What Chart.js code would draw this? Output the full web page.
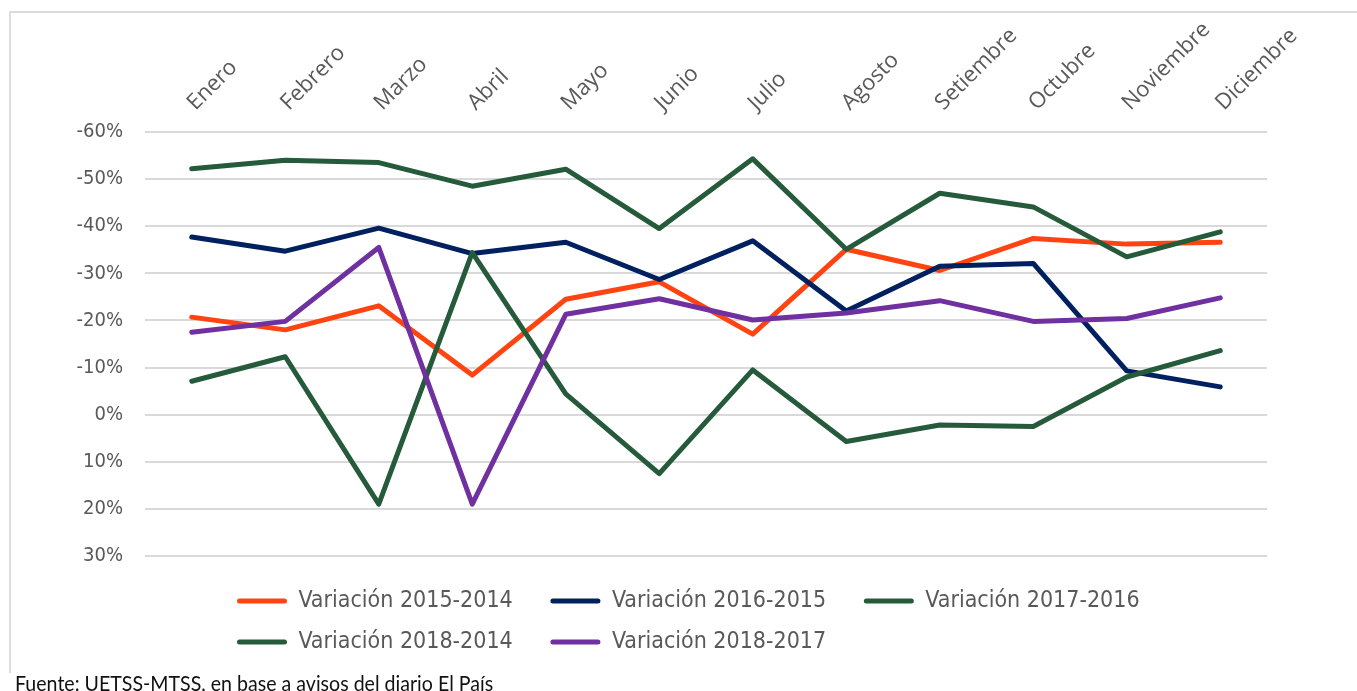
<!DOCTYPE html>
<html lang="es">
<head>
<meta charset="utf-8">
<title>Variación de avisos laborales</title>
<script src="https://cdn.jsdelivr.net/npm/chart.js@4.4.1/dist/chart.umd.min.js"></script>
<style>
  html, body { margin: 0; padding: 0; background: #fff; overflow: hidden; }
  .wrap { position: relative; width: 1357px; height: 691px; }
  .frame {
    position: absolute; left: 9px; top: 11px; width: 1360px; height: 660px;
    border-top: 2px solid #dcdcdc; border-left: 2px solid #dcdcdc;
  }
  .box { position: absolute; left: 0; top: 0; width: 1357px; height: 691px; }
  .fuente {
    position: absolute; left: 15px; top: 669px;
    font-family: Lato, "Open Sans", sans-serif; font-size: 22px; color: #111;
    white-space: nowrap;
    transform: scaleX(0.89); transform-origin: left top;
  }
</style>
</head>
<body>
<div class="wrap">
  <div class="frame"></div>
  <div class="box"><canvas id="grafico"></canvas></div>
  <div class="fuente">Fuente: UETSS-MTSS, en base a avisos del diario El País</div>
</div>

<script>
// Meses (eje superior)
const meses = ['Enero', 'Febrero', 'Marzo', 'Abril', 'Mayo', 'Junio', 'Julio',
  'Agosto', 'Setiembre', 'Octubre', 'Noviembre', 'Diciembre'];

// Variaciones en %
const var2015_2014 = [-20.7, -18.0, -23.1, -8.4, -24.5, -28.2, -17.1, -35.1, -30.6, -37.4, -36.2, -36.6];
const var2016_2015 = [-37.7, -34.7, -39.6, -34.2, -36.6, -28.7, -36.9, -22.0, -31.5, -32.1, -9.3, -5.9];
const var2017_2016 = [-52.2, -54.0, -53.5, -48.5, -52.1, -39.5, -54.3, -35.1, -47.0, -44.1, -33.5, -38.8];
const var2018_2014 = [-7.1, -12.3, 19.0, -34.4, -4.4, 12.5, -9.5, 5.7, 2.2, 2.5, -8.0, -13.6];
const var2018_2017 = [-17.5, -19.8, -35.5, 19.0, -21.3, -24.6, -20.1, -21.6, -24.2, -19.8, -20.4, -24.8];

// Eje Y (invertido)
const yMin = -60;
const yMax = 30;
const yStep = 10;

const gris = '#595959';
const condensada = "'DejaVu Sans Condensed', 'Liberation Sans Narrow', sans-serif";

function serie(label, data, color, orden) {
  return {
    label, data,
    borderColor: color,
    backgroundColor: color,
    borderWidth: 5,
    borderJoinStyle: 'round',
    borderCapStyle: 'round',
    pointRadius: 0,
    pointHoverRadius: 0,
    tension: 0,
    order: orden
  };
}

// Coloca la leyenda como en el original (filas alineadas a la izquierda)
const leyendaFija = {
  id: 'leyendaFija',
  afterLayout(chart) {
    const lg = chart.legend;
    if (!lg) return;
    const h = lg.height;
    lg.left = 219;
    lg.top = 571.5;
    lg.bottom = lg.top + h;
  }
};

new Chart(document.getElementById('grafico'), {
  type: 'line',
  data: {
    labels: meses,
    datasets: [
      serie('Variación 2015-2014', var2015_2014, '#FF4412', 5),
      serie('Variación 2016-2015', var2016_2015, '#002060', 4),
      serie('Variación 2017-2016', var2017_2016, '#255A3A', 3),
      serie('Variación 2018-2014', var2018_2014, '#255A3A', 2),
      serie('Variación 2018-2017', var2018_2017, '#7030A0', 1)
    ]
  },
  options: {
    responsive: true,
    maintainAspectRatio: false,
    animation: false,
    layout: { padding: { left: 0, top: 0, right: 90, bottom: 43 } },
    scales: {
      x: {
        position: 'top',
        offset: true,
        grid: { display: false, drawTicks: false },
        border: { display: false },
        ticks: {
          autoSkip: false,
          minRotation: 45,
          maxRotation: 45,
          padding: 16,
          labelOffset: 18,
          color: gris,
          font: { family: "'Open Sans', sans-serif", size: 22 }
        },
        afterFit: s => { s.height = 132; }
      },
      y: {
        reverse: true,
        min: yMin,
        max: yMax,
        grid: { color: '#d9d9d9', lineWidth: 2, drawTicks: false },
        border: { display: false },
        ticks: {
          stepSize: yStep,
          padding: 22,
          color: gris,
          font: { family: condensada, size: 20 },
          callback: v => v + '%'
        },
        afterFit: s => { s.width = 145; }
      }
    },
    plugins: {
      tooltip: { enabled: false },
      legend: {
        position: 'bottom',
        align: 'start',
        labels: {
          boxWidth: 50,
          boxHeight: 5,
          useBorderRadius: true,
          borderRadius: 2.5,
          padding: 18,
          color: gris,
          font: { family: condensada, size: 23 },
          sort: (a, b) => a.datasetIndex - b.datasetIndex,
          generateLabels: chart =>
            Chart.defaults.plugins.legend.labels.generateLabels(chart).map(l => ({
              ...l,
              fillStyle: l.strokeStyle,
              lineWidth: 0,
              text: l.text + '   '
            }))
        }
      }
    }
  },
  plugins: [leyendaFija]
});
</script>
</body>
</html>
